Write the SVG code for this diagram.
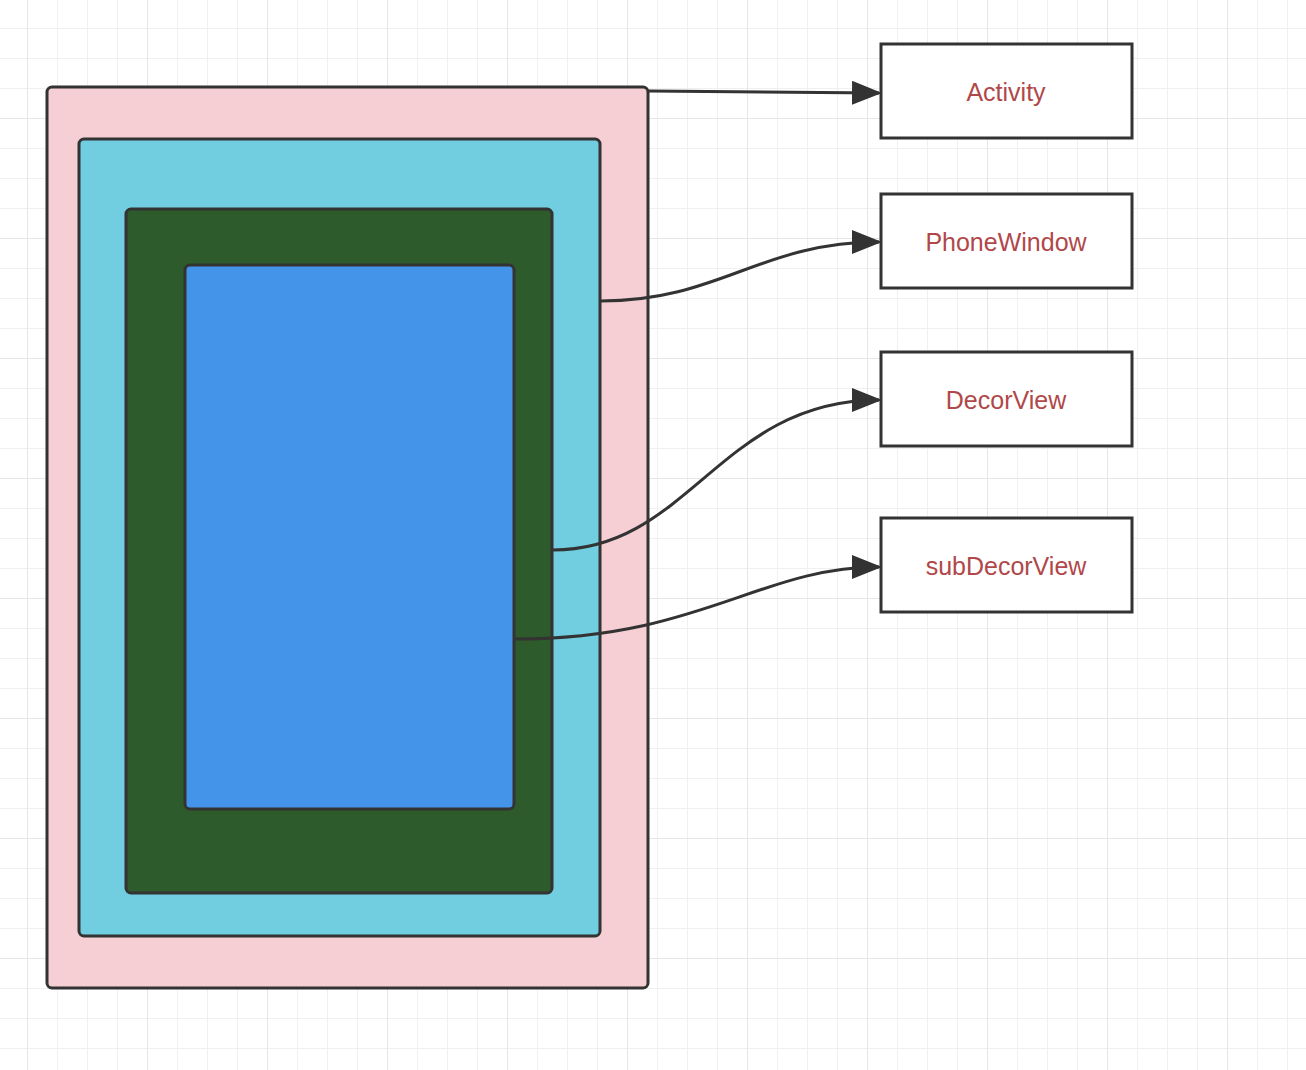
<svg xmlns="http://www.w3.org/2000/svg" width="1306" height="1070" viewBox="0 0 1306 1070">
<defs>
<pattern id="minor" x="-3" y="-2" width="30" height="30" patternUnits="userSpaceOnUse"><path d="M0 0H30M0 0V30" fill="none" stroke="#f0f0f0" stroke-width="2"/></pattern>
<pattern id="major" x="27" y="-2" width="120" height="120" patternUnits="userSpaceOnUse"><path d="M0 0H120M0 0V120" fill="none" stroke="#e6e6e6" stroke-width="2"/></pattern>
<marker id="arr" markerWidth="10" markerHeight="8" refX="9" refY="4" orient="auto" markerUnits="strokeWidth"><path d="M0 0L10 4L0 8Z" fill="#333"/></marker>
<style>
.c{fill:none;stroke:#333;stroke-width:3;marker-end:url(#arr)}
.n{stroke:#333;stroke-width:3}
.b{fill:#fff;stroke:#333;stroke-width:3}
.t{font-family:"Liberation Sans",Arial,sans-serif;font-size:25px;fill:#b0484a;text-anchor:middle;dominant-baseline:central}
</style>
</defs>
<rect width="1306" height="1070" fill="#fff"/>
<rect width="1306" height="1070" fill="url(#minor)"/>
<rect width="1306" height="1070" fill="url(#major)"/>
<g id="activityFrame"><rect class="n" x="47" y="87" width="601" height="901" rx="5" fill="#f6cfd5"/></g>
<g id="phoneWindowFrame"><rect class="n" x="79" y="139" width="521" height="797" rx="5" fill="#70cee0"/></g>
<g id="decorViewFrame"><rect class="n" x="126" y="209" width="426" height="684" rx="5" fill="#2e5b2b"/></g>
<g id="subDecorViewFrame"><rect class="n" x="185" y="265" width="329" height="544" rx="5" fill="#4495ea"/></g>
<g id="activity"><rect class="b" x="881" y="44" width="251" height="94"/><text class="t" x="1006" y="92">Activity</text></g>
<g id="phoneWindow"><rect class="b" x="881" y="194" width="251" height="94"/><text class="t" x="1006" y="242">PhoneWindow</text></g>
<g id="decorView"><rect class="b" x="881" y="352" width="251" height="94"/><text class="t" x="1006" y="400">DecorView</text></g>
<g id="subDecorView"><rect class="b" x="881" y="518" width="251" height="94"/><text class="t" x="1006" y="566">subDecorView</text></g>
<g id="connectors">
<path class="c" d="M649 91L879 93"/>
<path class="c" d="M601 301C720 301 760 242 879 242"/>
<path class="c" d="M553 550C690 550 720 400 879 400"/>
<path class="c" d="M515 639C700 639 760 567 879 567"/>
</g>
</svg>
